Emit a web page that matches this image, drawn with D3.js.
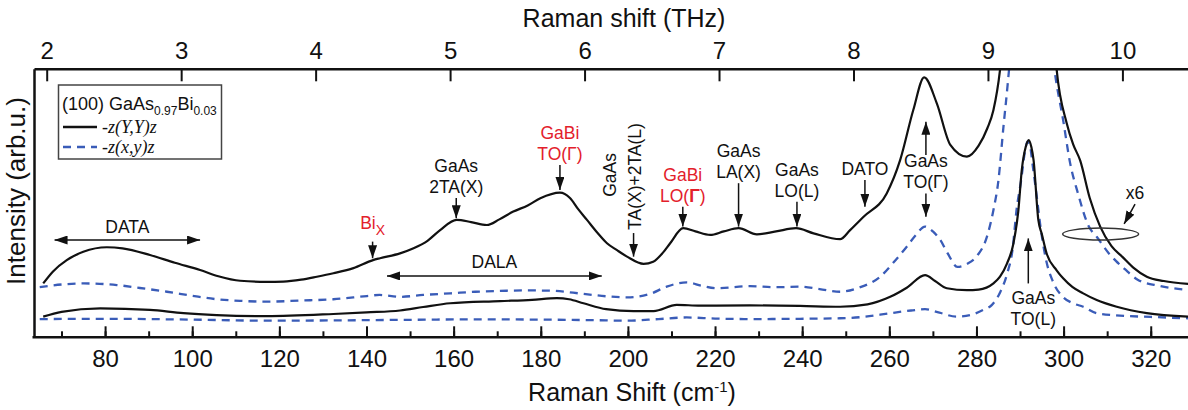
<!DOCTYPE html>
<html>
<head>
<meta charset="utf-8">
<script src="https://cdn.jsdelivr.net/npm/d3@7"></script>
<style>
  html, body { margin: 0; padding: 0; background: #fff; }
  svg { display: block; }
  text { font-family: "Liberation Sans", Arial, sans-serif; }
</style>
</head>
<body>
<svg id="chart" width="1188" height="410"></svg>
<script>
// ---- spectra: [Raman shift (cm^-1), intensity (arb. u.)] ----
// -z(Y,Y)z, magnified x6
const yyMagnified = [
  [65.8,20.1],[68,24.5],[71.2,28.8],[75,31.9],[80.4,33.6],[84,33.2],[90.3,30.7],[96,27.8],
  [101.8,25.1],[106,22.8],[111,21.1],[117.1,20.7],[120.9,20.8],[125,21.5],[128.6,22.6],
  [132.4,23.9],[137,25.8],[141.5,28.8],[143.1,29.5],[147.7,31.3],[150.8,33.2],[154,36.0],
  [156.9,40.0],[160.7,43.8],[164,43.0],[167.6,41.9],[170.5,44.0],[173.7,46.9],[177,49.2],
  [179.9,51.9],[184.4,54.0],[186.7,52.0],[188.5,48.0],[190.6,43.8],[193,39.0],[195.2,35.1],
  [197.5,32.5],[199.8,30.1],[203.6,27.4],[205.8,28.2],[208,31.5],[209.7,35.1],[212.7,40.7],
  [215.5,39.5],[218.9,38.2],[222,39.5],[225.4,40.7],[229.6,38.4],[234,39.5],[238.6,40.7],
  [242.6,38.8],[248.7,36.6],[251,40.0],[254.1,45.0],[259.4,53.7],[262.5,66.2],[265.5,84.8],
  [268,97.0],[270.9,87.3],[274,71.8],[277.8,67.4],[280.5,71.5],[282.5,78.0],[283.9,84.8],
  [285.4,99.7],[287,130],[289,200],[292,300],[295,200],[297,130],[298.4,100],[300.7,80],
  [302.2,72],[303.8,66],[306,52],[308.4,41.3],[311,34],[313.5,30],[316,26],[319.1,22.6],
  [323,21],[328.6,19.9]
];
// -z(x,y)z, magnified x6
const xyMagnified = [
  [65,18.7],[70,19.7],[75,20.1],[82.7,19.5],[88,18.4],[94.2,17.0],[100,15.5],[105.6,14.2],
  [111,13.6],[117.1,13.3],[124.8,13.7],[132.4,14.2],[140.1,15.4],[143,15.8],[147.7,15.1],
  [153,15.8],[159.2,16.4],[165,17.0],[170.7,17.3],[176,17.5],[182.2,17.4],[189.8,16.2],
  [195,15.3],[199.8,14.9],[205.1,16.2],[208.9,18.9],[213.5,20.5],[217,19.2],[220.4,18.3],
  [228,19.1],[234,18.7],[239.5,18.9],[244,18.0],[248.7,17.0],[253,18.5],[257.9,22.6],
  [261,28.0],[264,33.8],[266,38.0],[268.2,41.3],[270,39.5],[271.7,36.3],[273.5,31.0],
  [275.6,26.3],[278,27.5],[280.2,30.5],[282.3,37.0],[283.9,47.5],[285,58],[286.2,78.6],
  [287.2,95],[288,110],[290,180],[292,280],[294,200],[296,130],[297.9,100],[299.9,81],
  [301.5,65],[303.3,53.7],[305.8,41.3],[307.6,37.5],[310.4,31.3],[312,28.5],[314,25.5],
  [317,21.5],[322,19.2],[328.6,17.6]
];
// -z(Y,Y)z, as measured
const yyRaw = [
  [65.8,7.7],[70,9.5],[78.9,10.8],[90.3,10.2],[98,9.0],[105.6,8.3],[117.1,7.9],[132.4,8.7],
  [140,9.3],[147.7,10.0],[153,11.3],[159.2,12.7],[170.7,13.5],[178,14.0],[183.7,14.6],
  [186.5,14.2],[189.8,12.7],[195,10.5],[201.3,9.8],[205.9,9.8],[211.2,12.1],[216.6,11.8],
  [228,11.9],[239.5,11.7],[248.7,11.4],[255,12.3],[260.2,15.1],[264,18.5],[268.2,23.2],
  [270.5,21.0],[273.2,18.3],[277.8,17.6],[280.5,17.8],[283.9,20.1],[285.4,22.6],[287,27.5],
  [288.5,35.1],[289.6,47.0],[290.4,62.4],[291.3,71.0],[292,73.6],[292.6,71.0],[293.1,66.2],
  [294.2,43.8],[295,38.5],[296.1,31.3],[298.4,25.0],[299.9,22.0],[302,18.8],[304.5,16.4],
  [307.6,13.9],[312.2,11.4],[319.1,9.0],[328.6,7.7]
];
// -z(x,y)z, as measured
const xyRaw = [
  [65,6.8],[80,6.9],[100,6.6],[117,6.2],[132,6.3],[147.7,6.5],[165,6.7],[180,6.6],[192,6.4],
  [199.8,6.2],[207,6.8],[213.5,7.4],[220,7.0],[228,6.8],[239.5,6.9],[248.7,7.1],[254,7.6],
  [260.2,9.0],[265,10.0],[268.2,10.5],[271.5,9.2],[275.4,7.7],[279,8.5],[281.5,10.2],
  [283.5,12.0],[285.5,17.0],[287,23.5],[288.3,33],[289.2,47.5],[290.2,58],[291.2,70],
  [291.7,73],[292.2,72],[293,63],[293.8,53],[294.8,40],[296.1,28],[297.5,21],[299.9,15.0],
  [302,12.8],[304.5,11.4],[307.6,9.0],[312,8.2],[320,7.6],[328.6,7.1]
];

// ---- axes ----
const shiftDomain = [63.8, 330];
const intensityDomain = [0, 100];
const shiftTicks = d3.range(80, 321, 20);
const shiftMinorTicks = d3.range(70, 331, 10);
const thzTicks = d3.range(2, 11);
// THz scale as marked along the top edge, anchored at its 2 and 10 THz ticks
const thzAnchors = [2, 10];
const thzAnchorShift = [66.6, 313.5];

// ---- layout ----
const W = 1188, H = 410;
const plot = { left: 34.5, top: 69.3, bottom: 337.3, right: 1194.3 };
const INK = "#111";
const RED = "#e3202b";
const BLUE = "#3a5cb8";

const svg = d3.select("#chart");
svg.append("rect").attr("width", W).attr("height", H).attr("fill", "#fff");

const x = d3.scaleLinear().domain(shiftDomain).range([plot.left, plot.right]);
const y = d3.scaleLinear().domain(intensityDomain).range([plot.bottom, plot.top]);
const thz = d3.scaleLinear().domain(thzAnchors).range(thzAnchorShift.map(x));

const defs = svg.append("defs");
defs.append("clipPath").attr("id", "plotClip")
  .append("rect")
  .attr("x", plot.left).attr("y", plot.top)
  .attr("width", plot.right - plot.left).attr("height", plot.bottom - plot.top);

defs.append("marker")
  .attr("id", "head")
  .attr("viewBox", "0 0 13 9")
  .attr("refX", 13).attr("refY", 4.5)
  .attr("markerWidth", 13).attr("markerHeight", 9)
  .attr("markerUnits", "userSpaceOnUse")
  .attr("orient", "auto-start-reverse")
  .append("path").attr("d", "M0,0 L13,4.5 L0,9 Z").attr("fill", INK);

// ---- spectra ----
const line = d3.line()
  .x(d => x(d[0]))
  .y(d => y(d[1]))
  .curve(d3.curveMonotoneX);

const curves = svg.append("g").attr("clip-path", "url(#plotClip)");
const series = [
  { data: xyRaw, color: BLUE, dash: "8,6" },
  { data: yyRaw, color: INK, dash: null },
  { data: xyMagnified, color: BLUE, dash: "8,6" },
  { data: yyMagnified, color: INK, dash: null }
];
series.forEach(s => {
  curves.append("path")
    .datum(s.data)
    .attr("d", line)
    .attr("fill", "none")
    .attr("stroke", s.color)
    .attr("stroke-width", s.dash ? 2.3 : 2.2)
    .attr("stroke-dasharray", s.dash)
    .attr("stroke-linejoin", "round");
});

// ---- axes ----
const styleAxis = g => {
  g.select(".domain").remove();
  g.selectAll(".tick line").attr("stroke", INK).attr("stroke-width", 2);
  g.selectAll(".tick text")
    .attr("fill", INK)
    .style("font-family", '"Liberation Sans", Arial, sans-serif')
    .style("font-size", "24px");
};

svg.append("g")
  .attr("transform", `translate(0,${plot.bottom})`)
  .call(d3.axisBottom(x).tickValues(shiftMinorTicks).tickSize(-6).tickSizeOuter(0).tickFormat(""))
  .call(styleAxis);

svg.append("g")
  .attr("transform", `translate(0,${plot.bottom})`)
  .call(d3.axisBottom(x).tickValues(shiftTicks).tickSize(-11).tickSizeOuter(0).tickPadding(13))
  .call(styleAxis);

svg.append("g")
  .attr("transform", `translate(0,${plot.top})`)
  .call(d3.axisTop(thz).tickValues(thzTicks).tickSize(-12).tickSizeOuter(0).tickPadding(10)
    .tickFormat(d3.format("d")))
  .call(styleAxis);

// frame
const frame = svg.append("g").attr("stroke", INK).attr("stroke-width", 2.5).attr("fill", "none");
frame.append("line").attr("x1", plot.left).attr("x2", W + 5).attr("y1", plot.top).attr("y2", plot.top);
frame.append("line").attr("x1", plot.left).attr("x2", plot.left).attr("y1", plot.top).attr("y2", plot.bottom);
frame.append("line").attr("x1", plot.left - 2).attr("x2", W + 5).attr("y1", plot.bottom).attr("y2", plot.bottom);

// axis titles
const xTitle = svg.append("text")
  .attr("x", 632).attr("y", 401)
  .attr("text-anchor", "middle")
  .attr("fill", INK)
  .style("font-size", "25px");
xTitle.append("tspan").text("Raman Shift (cm");
xTitle.append("tspan").attr("dy", -9).style("font-size", "15px").text("-1");
xTitle.append("tspan").attr("dy", 9).text(")");

svg.append("text")
  .attr("x", 624).attr("y", 27)
  .attr("text-anchor", "middle")
  .attr("fill", INK)
  .style("font-size", "25px")
  .text("Raman shift (THz)");

svg.append("text")
  .attr("transform", "translate(25,191) rotate(-90)")
  .attr("text-anchor", "middle")
  .attr("fill", INK)
  .style("font-size", "26px")
  .text("Intensity (arb.u.)");

// ---- legend ----
const legend = svg.append("g");
legend.append("rect")
  .attr("x", 58.5).attr("y", 85).attr("width", 163).attr("height", 74)
  .attr("fill", "#fff").attr("stroke", "#444").attr("stroke-width", 1.5);
const lt = legend.append("text").attr("x", 62).attr("y", 110).attr("fill", INK).style("font-size", "18px");
lt.append("tspan").text("(100) GaAs");
lt.append("tspan").attr("dy", 5).style("font-size", "12px").text("0.97");
lt.append("tspan").attr("dy", -5).text("Bi");
lt.append("tspan").attr("dy", 5).style("font-size", "12px").text("0.03");
const legendRows = [
  { label: "-z(Y,Y)z", color: INK, dash: null, y: 127 },
  { label: "-z(x,y)z", color: BLUE, dash: "8,6", y: 147 }
];
legendRows.forEach(r => {
  legend.append("line")
    .attr("x1", 63).attr("x2", 97).attr("y1", r.y).attr("y2", r.y)
    .attr("stroke", r.color).attr("stroke-width", 2.4).attr("stroke-dasharray", r.dash);
  legend.append("text")
    .attr("x", 102).attr("y", r.y + 5.5)
    .attr("fill", INK)
    .style("font-family", '"Liberation Serif", "Times New Roman", serif')
    .style("font-style", "italic")
    .style("font-size", "18px")
    .text(r.label);
});

// ---- peak assignments ----
const ann = svg.append("g");
const LABEL_SIZE = "17.5px";
const LINE_GAP = 21;

function arrow(x1, y1, x2, y2, both) {
  const l = ann.append("line")
    .attr("x1", x1).attr("y1", y1).attr("x2", x2).attr("y2", y2)
    .attr("stroke", INK).attr("stroke-width", 1.5)
    .attr("marker-end", "url(#head)");
  if (both) l.attr("marker-start", "url(#head)");
}

function label(lines, cx, firstBaseline, color, boldGamma) {
  lines.forEach((txt, i) => {
    const t = ann.append("text")
      .attr("x", cx).attr("y", firstBaseline + i * LINE_GAP)
      .attr("text-anchor", "middle")
      .attr("fill", color)
      .style("font-size", LABEL_SIZE);
    if (boldGamma && txt.includes("Γ")) {
      const parts = txt.split("Γ");
      t.append("tspan").text(parts[0]);
      t.append("tspan").style("font-weight", "bold").text("Γ");
      t.append("tspan").text(parts[1]);
    } else {
      t.text(txt);
    }
  });
}

// assignments marked with a vertical arrow; label sits above (or below) the first arrow's tail
const peakLabels = [
  { shift: 160.6, lines: ["GaAs", "2TA(X)"], color: INK, arrows: [[52.0, 44.4]], side: "above" },
  { shift: 184.4, lines: ["GaBi", "TO(Γ)"], color: RED, arrows: [[64.3, 55.0]], side: "above" },
  { shift: 212.6, lines: ["GaBi", "LO(Γ)"], color: RED, arrows: [[48.7, 41.3]], side: "above", bold: true },
  { shift: 225.4, lines: ["GaAs", "LA(X)"], color: INK, arrows: [[57.5, 41.3]], side: "above" },
  { shift: 238.8, lines: ["GaAs", "LO(L)"], color: INK, arrows: [[50.6, 41.3]], side: "above" },
  { shift: 254.4, lines: ["DATO"], color: INK, arrows: [[58.7, 48.7]], side: "above" },
  { shift: 268.4, lines: ["GaAs", "TO(Γ)"], color: INK, arrows: [[53.7, 45.0], [68.0, 80.4]], side: "above" },
  { shift: 291.9, lines: ["GaAs", "TO(L)"], color: INK, arrows: [[20.1, 36.9]], side: "below" }
];

peakLabels.forEach(p => {
  const px = x(p.shift);
  p.arrows.forEach(([from, to]) => arrow(px, y(from), px, y(to)));
  const tail = y(p.arrows[0][0]);
  const first = p.side === "above"
    ? tail - 5 - LINE_GAP * (p.lines.length - 1)
    : tail + 21;
  label(p.lines, p.side === "below" ? px + 5 : px, first, p.color, p.bold);
});

// two-phonon band, label written vertically
{
  const px = x(201.3);
  arrow(px, y(38.9), px, y(30.1));
  ann.append("text")
    .attr("transform", `translate(${px - 17.5},${y(60.6)}) rotate(-90)`)
    .attr("text-anchor", "middle").attr("fill", INK).style("font-size", LABEL_SIZE)
    .text("GaAs");
  ann.append("text")
    .attr("transform", `translate(${px + 7.5},${y(60.0)}) rotate(-90)`)
    .attr("text-anchor", "middle").attr("fill", INK).style("font-size", LABEL_SIZE)
    .text("TA(X)+2TA(L)");
}

// Bi-related local mode
{
  const px = x(141.4);
  arrow(px, y(35.7), px, y(29.5));
  const t = ann.append("text")
    .attr("x", px).attr("y", y(35.7) - 13)
    .attr("text-anchor", "middle").attr("fill", RED).style("font-size", LABEL_SIZE);
  t.append("tspan").text("Bi");
  t.append("tspan").attr("dy", 6).style("font-size", "14px").text("X");
}

// disorder-activated bands (double arrows)
const bands = [
  { name: "DATA", from: 68.4, to: 101.8, level: 36.3 },
  { name: "DALA", from: 144.7, to: 194.0, level: 22.9 }
];
bands.forEach(b => {
  const yy = y(b.level);
  arrow(x(b.from), yy, x(b.to), yy, true);
  ann.append("text")
    .attr("x", (x(b.from) + x(b.to)) / 2).attr("y", yy - 7.5)
    .attr("text-anchor", "middle").attr("fill", INK).style("font-size", LABEL_SIZE)
    .text(b.name);
});

// magnification marker on the upper pair of spectra
{
  ann.append("ellipse")
    .attr("cx", x(308.5)).attr("cy", y(38.5))
    .attr("rx", 38).attr("ry", 6)
    .attr("fill", "none").attr("stroke", "#333").attr("stroke-width", 1.5);
  arrow(x(316.4), y(49.7), x(313.9), y(42.3));
  ann.append("text")
    .attr("x", x(316.4)).attr("y", y(51.6))
    .attr("text-anchor", "middle").attr("fill", INK).style("font-size", LABEL_SIZE)
    .text("x6");
}
</script>
</body>
</html>
